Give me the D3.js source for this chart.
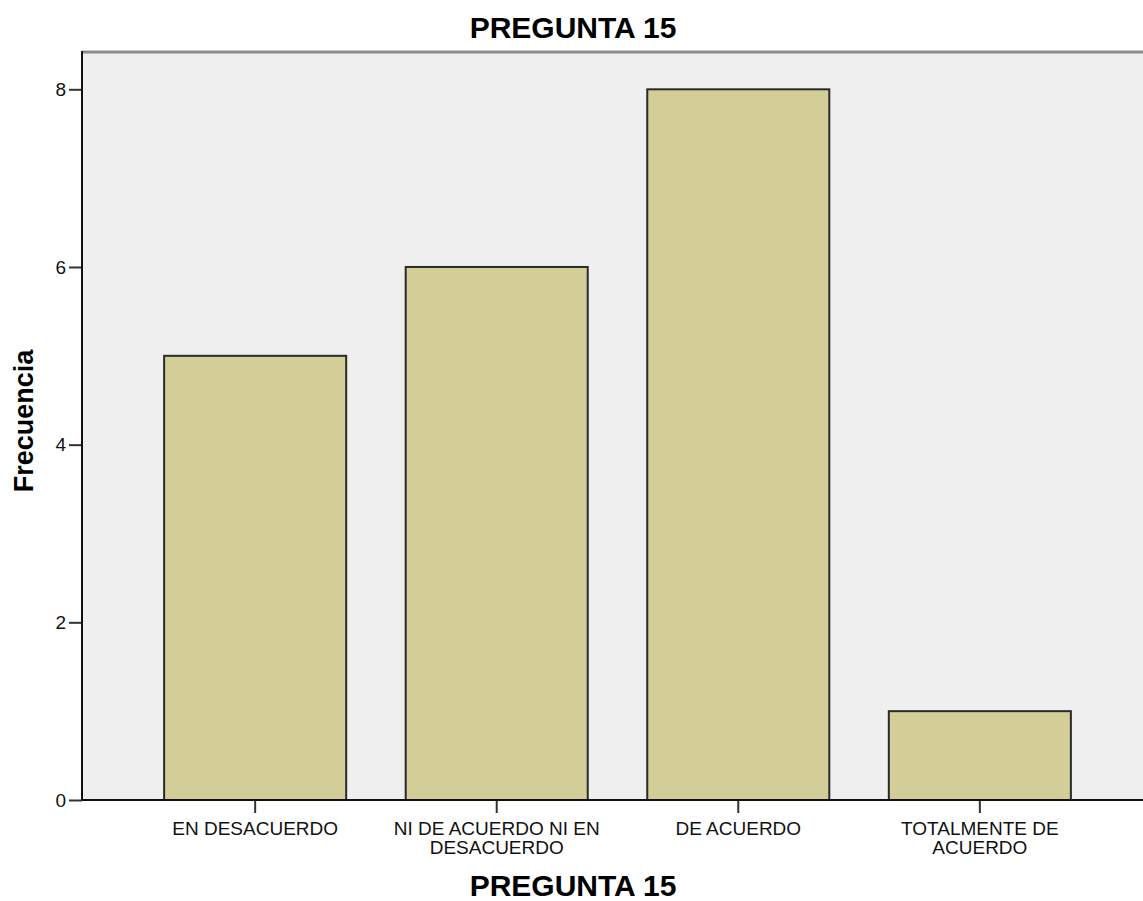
<!DOCTYPE html>
<html>
<head>
<meta charset="utf-8">
<script src="https://cdn.jsdelivr.net/npm/d3@7"></script>
<style>
  body { margin: 0; background: #fff; }
  text { font-family: Arial, "Liberation Sans", sans-serif; }
</style>
</head>
<body>
<div id="chart"></div>
<script>
const categories = ["EN DESACUERDO", "NI DE ACUERDO NI EN DESACUERDO", "DE ACUERDO", "TOTALMENTE DE ACUERDO"];
const catLines = [["EN DESACUERDO"], ["NI DE ACUERDO NI EN", "DESACUERDO"], ["DE ACUERDO"], ["TOTALMENTE DE", "ACUERDO"]];
const counts = [5, 6, 8, 1];
const yTicks = [0, 2, 4, 6, 8];

const W = 1143, H = 901;
const svg = d3.select("#chart").append("svg")
  .attr("width", W)
  .attr("height", H);

// plot frame (right side runs off the picture)
const plotLeft = 82, plotRight = 1153, plotTop = 52, plotBottom = 800;

const x = d3.scaleBand()
  .domain(categories)
  .range([plotLeft, plotRight])
  .paddingInner(0.2464)
  .paddingOuter(0.34);

const y = d3.scaleLinear()
  .domain([0, 8.42])
  .range([plotBottom, plotTop]);

// background
svg.append("rect")
  .attr("x", plotLeft).attr("y", plotTop)
  .attr("width", plotRight - plotLeft).attr("height", plotBottom - plotTop)
  .attr("fill", "#efefef");

svg.append("line")
  .attr("x1", plotLeft).attr("x2", plotRight)
  .attr("y1", plotTop).attr("y2", plotTop)
  .attr("stroke", "#8a8a8a").attr("stroke-width", 3);

// bars
svg.selectAll("rect.bar")
  .data(counts)
  .enter().append("rect")
  .attr("class", "bar")
  .attr("x", (d, i) => x(categories[i]))
  .attr("y", d => y(d))
  .attr("width", x.bandwidth())
  .attr("height", d => y(0) - y(d))
  .attr("fill", "#d3ce98")
  .attr("stroke", "#2a2a2a")
  .attr("stroke-width", 2);

// y axis
const yAxis = d3.axisLeft(y).tickValues(yTicks).tickSize(13).tickPadding(3).tickFormat(d3.format("d"));
const gy = svg.append("g")
  .attr("transform", `translate(${plotLeft},0)`)
  .call(yAxis);
gy.select(".domain").remove();
gy.append("line")
  .attr("x1", 0).attr("x2", 0).attr("y1", plotTop - 1).attr("y2", plotBottom)
  .attr("stroke", "#111").attr("stroke-width", 2);
gy.selectAll(".tick line").attr("stroke", "#333").attr("stroke-width", 2);
gy.selectAll(".tick text").attr("font-size", 19).attr("fill", "#111")
  .attr("font-family", "Arial, 'Liberation Sans', sans-serif");

// x axis
const xAxis = d3.axisBottom(x).tickSize(13).tickFormat("");
const gx = svg.append("g")
  .attr("transform", `translate(0,${plotBottom})`)
  .call(xAxis);
gx.select(".domain").remove();
gx.append("line")
  .attr("x1", plotLeft).attr("x2", plotRight).attr("y1", 0).attr("y2", 0)
  .attr("stroke", "#111").attr("stroke-width", 2);
gx.selectAll(".tick line").attr("stroke", "#333").attr("stroke-width", 2);

gx.selectAll(".tick").each(function(d, i) {
  const t = d3.select(this).append("text")
    .attr("text-anchor", "middle")
    .attr("fill", "#111")
    .attr("font-size", 19)
    .attr("font-family", "Arial, 'Liberation Sans', sans-serif")
    .attr("y", 34.5);
  catLines[i].forEach((ln, j) => {
    t.append("tspan").attr("x", 0).attr("dy", j === 0 ? 0 : 19).text(ln);
  });
});

// titles
svg.append("text")
  .attr("x", 573).attr("y", 38)
  .attr("text-anchor", "middle")
  .attr("font-size", 30).attr("font-weight", "bold")
  .text("PREGUNTA 15");

svg.append("text")
  .attr("x", 573).attr("y", 896)
  .attr("text-anchor", "middle")
  .attr("font-size", 30).attr("font-weight", "bold")
  .text("PREGUNTA 15");

svg.append("text")
  .attr("transform", "translate(33,421) rotate(-90)")
  .attr("text-anchor", "middle")
  .attr("font-size", 27).attr("font-weight", "bold")
  .text("Frecuencia");
</script>
</body>
</html>
